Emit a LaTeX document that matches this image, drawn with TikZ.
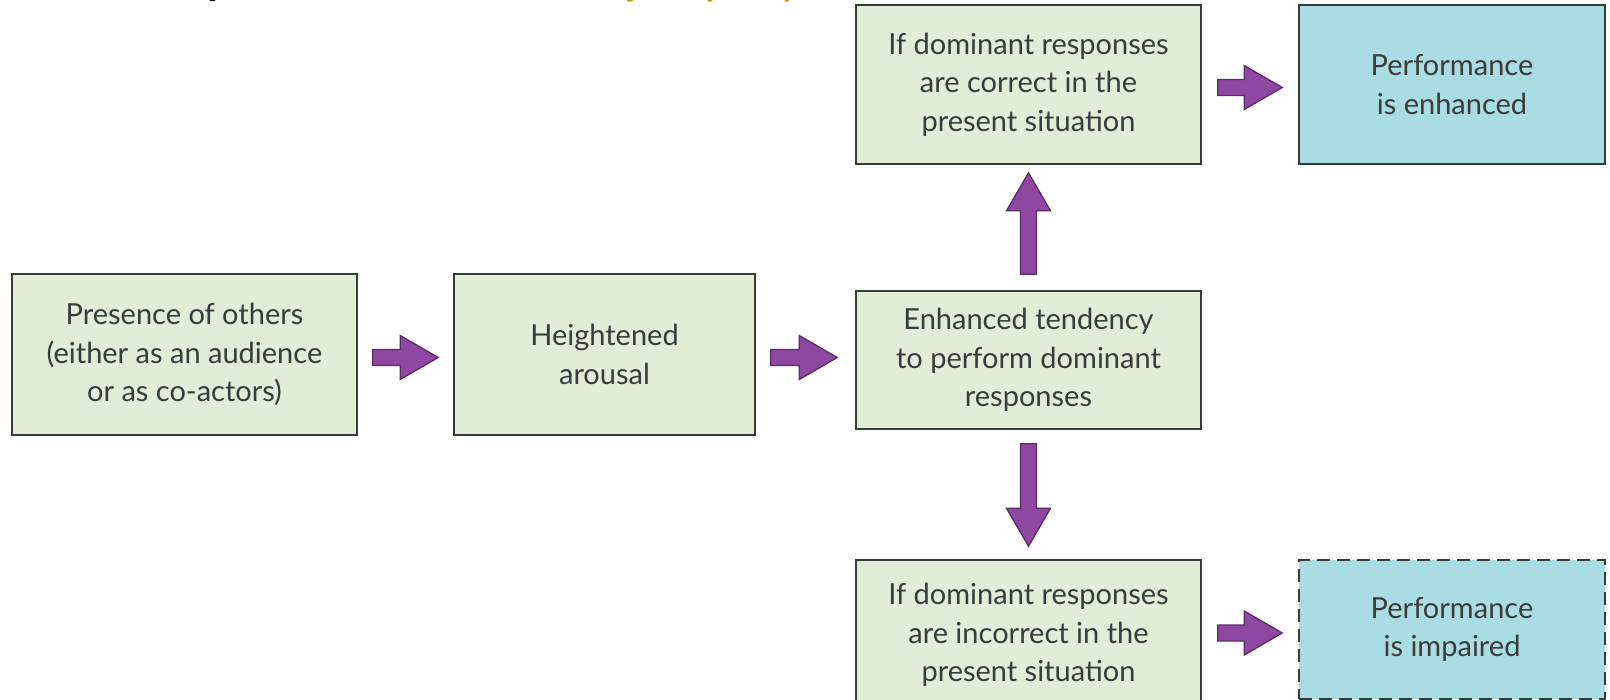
\documentclass[tikz,border=0pt]{standalone}
\usepackage{fontspec}
\setmainfont{Lato}
\newfontfamily\titlefont{Liberation Sans}
\usetikzlibrary{calc}
\definecolor{boxgreen}{HTML}{E2ECD6}
\definecolor{boxblue}{HTML}{AADCE3}
\definecolor{boxedge}{HTML}{373C37}
\definecolor{txt}{HTML}{3B3B3B}
\definecolor{arrowfill}{HTML}{8E48A2}
\definecolor{arrowedge}{HTML}{5A2B68}
\definecolor{gold}{HTML}{C9990C}
\begin{document}
\begin{tikzpicture}[x=1pt,y=-1pt,
  box/.style={draw=boxedge, line width=1.6pt, fill=boxgreen, text=txt, align=center,
    inner sep=0pt, font=\fontsize{29}{38.5}\selectfont,
    execute at begin node={\rule{0pt}{38pt}}},
  outbox/.style={box, fill=boxblue},
  ba start/.store in=\bagA, ba end/.store in=\bagB, ba start=15pt, ba end=15pt,
  blockarrow/.style={fill=arrowfill, draw=arrowedge, line width=1.3pt, line join=miter,
    to path={
      let \p1=($(\tikztostart)!\bagA!(\tikztotarget)$),
          \p2=($(\tikztotarget)!\bagB!(\tikztostart)$),
          \n1={atan2(\y2-\y1,\x2-\x1)},
          \n2={veclen(\x2-\x1,\y2-\y1)},
          \n3={veclen(\x2-\x1,\y2-\y1)-38}
      in
      ([shift={(\p1)},rotate=\n1]0pt,-8pt)
      -- ([shift={(\p1)},rotate=\n1]\n3*1pt,-8pt)
      -- ([shift={(\p1)},rotate=\n1]\n3*1pt,-22pt)
      -- ([shift={(\p1)},rotate=\n1]\n2*1pt,0pt)
      -- ([shift={(\p1)},rotate=\n1]\n3*1pt,22pt)
      -- ([shift={(\p1)},rotate=\n1]\n3*1pt,8pt)
      -- ([shift={(\p1)},rotate=\n1]0pt,8pt)
      -- cycle
    }},
  titletext/.style={font=\titlefont\bfseries\fontsize{29.5}{36}\selectfont, inner sep=0pt},
  titleref/.style={font=\titlefont\bfseries\fontsize{32}{38}\selectfont, inner sep=0pt, text=gold}
]
\useasboundingbox (0,0) rectangle (1610,700);
\clip (0,0) rectangle (1610,700);

% partly cut-off title
\node[titletext, anchor=base east] (title) at (520,-4) {Drive Theory of Social Facilitation};
\node[titleref, anchor=base west] (titleref) at (590,-4) {Zajonc (1965)};

% boxes
\node[box, minimum width=345pt, minimum height=161pt] (A) at (184.5,354.5)
  {Presence of others\\(either as an audience\\or as co-actors)};
\node[box, minimum width=301pt, minimum height=161pt] (B) at (604.5,354.5)
  {Heightened\\arousal};
\node[box, minimum width=345pt, minimum height=138pt] (C) at (1028.5,360)
  {Enhanced tendency\\to perform dominant\\responses};
\node[box, minimum width=345pt, minimum height=159pt] (D) at (1028.5,84.5)
  {If dominant responses\\are correct in the\\present situation};
\node[outbox, minimum width=306pt, minimum height=159pt] (E) at (1452,84.5)
  {Performance\\is enhanced};
\node[box, minimum width=345pt, minimum height=150pt] (F) at (1028.5,635)
  {If dominant responses\\are incorrect in the\\present situation};
\node[outbox, dash pattern=on 13pt off 7pt, minimum width=306pt, minimum height=139pt] (G) at (1452,629.5)
  {Performance\\is impaired};

% block arrows
\draw[blockarrow] ([yshift=-3pt]A.east) to ([yshift=-3pt]B.west);
\draw[blockarrow, ba end=18pt] ([yshift=-3pt]B.east) to ([yshift=-3pt]B.east -| C.west);
\draw[blockarrow, ba start=16pt, ba end=8pt] (C.north) to (D.south);
\draw[blockarrow, ba start=14pt, ba end=13pt] (C.south) to (F.north);
\draw[blockarrow, ba start=16pt, ba end=16pt] ([yshift=-3pt]D.east) to ([yshift=-3pt]E.west);
\draw[blockarrow, ba start=16pt, ba end=16pt] ([yshift=2pt]F.east) to ([yshift=2pt]F.east -| G.west);
\end{tikzpicture}
\end{document}
